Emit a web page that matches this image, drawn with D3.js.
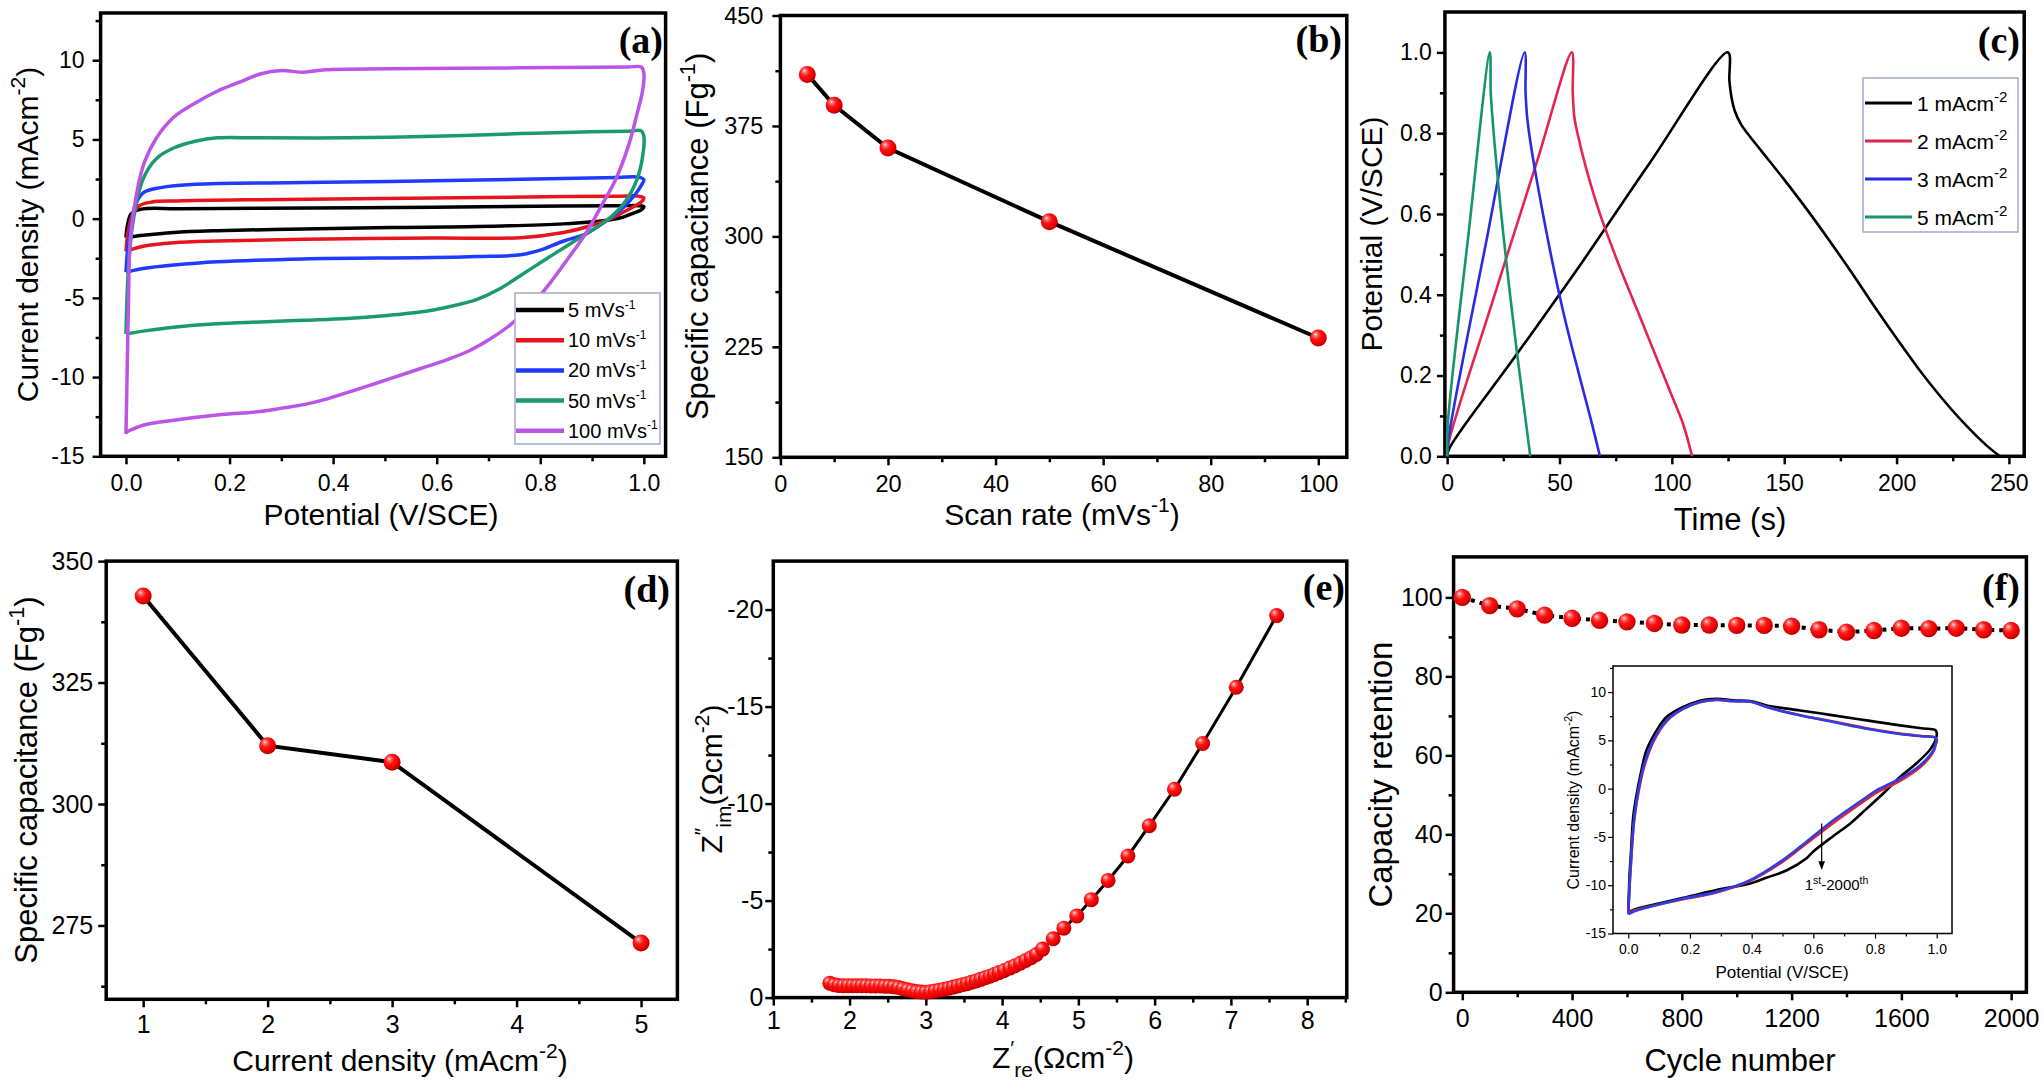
<!DOCTYPE html>
<html>
<head>
<meta charset="utf-8">
<script src="https://cdn.jsdelivr.net/npm/d3@7"></script>
<style>
  body { margin: 0; background: #fff; }
</style>
</head>
<body>
<script>
// ---- data ----

// (a) CV loops at several scan rates, [potential V, current density mA/cm2]
const cvLabels = ['5 mVs', '10 mVs', '20 mVs', '50 mVs', '100 mVs'];
const cv5 = [[0,-1.2],[0.003,-0.4],[0.01,0.3],[0.03,0.6],[0.1,0.63],[0.259,0.65],[0.594,0.72],[0.845,0.8],[0.95,0.81],[0.99,0.82],[1.0,0.75],[0.995,0.55],[0.98,0.35],[0.96,0.1],[0.929,-0.1],[0.845,-0.33],[0.678,-0.5],[0.51,-0.56],[0.343,-0.65],[0.176,-0.76],[0.092,-0.87],[0.033,-1.05],[0.01,-1.15],[0,-1.2]];
const cv10 = [[0,-2.07],[0.004,-0.9],[0.012,0.2],[0.025,0.8],[0.05,1.05],[0.1,1.12],[0.259,1.2],[0.594,1.3],[0.845,1.4],[0.95,1.42],[0.99,1.42],[1.0,1.3],[0.995,1.05],[0.98,0.75],[0.96,0.4],[0.929,-0.1],[0.887,-0.54],[0.845,-0.87],[0.762,-1.2],[0.594,-1.22],[0.343,-1.3],[0.176,-1.41],[0.092,-1.52],[0.033,-1.74],[0.01,-1.95],[0,-2.07]];
const cv20 = [[0,-3.37],[0.003,-2],[0.008,-0.8],[0.017,0.76],[0.033,1.63],[0.067,1.96],[0.134,2.17],[0.343,2.28],[0.594,2.39],[0.845,2.54],[0.95,2.6],[0.99,2.62],[1.0,2.45],[0.995,2.1],[0.985,1.6],[0.962,0.76],[0.929,-0.1],[0.887,-0.98],[0.845,-1.41],[0.803,-1.96],[0.762,-2.28],[0.678,-2.39],[0.594,-2.46],[0.343,-2.54],[0.176,-2.72],[0.092,-2.93],[0.033,-3.15],[0.01,-3.3],[0,-3.37]];
const cv50 = [[0,-7.28],[0.004,-3.6],[0.013,-0.33],[0.033,2.5],[0.059,3.8],[0.092,4.46],[0.134,4.89],[0.176,5.1],[0.259,5.1],[0.427,5.1],[0.594,5.2],[0.762,5.37],[0.9,5.48],[0.97,5.52],[0.995,5.54],[1.0,5.2],[0.998,4.0],[0.987,2.5],[0.962,0.98],[0.929,-0.1],[0.887,-0.98],[0.845,-1.85],[0.803,-2.72],[0.762,-3.59],[0.72,-4.46],[0.678,-5.1],[0.653,-5.33],[0.594,-5.76],[0.51,-6.09],[0.427,-6.3],[0.343,-6.41],[0.259,-6.52],[0.176,-6.63],[0.092,-6.85],[0.033,-7.1],[0,-7.28]];
const cv100 = [[0,-13.6],[0.002,-10.1],[0.005,-5],[0.008,-1.4],[0.02,1.5],[0.035,3.5],[0.059,5.1],[0.092,6.4],[0.134,7.3],[0.176,8.04],[0.218,8.6],[0.259,9.13],[0.301,9.35],[0.343,9.24],[0.385,9.4],[0.51,9.46],[0.762,9.52],[0.9,9.55],[0.97,9.57],[0.995,9.57],[1.0,9.2],[0.998,8.15],[0.987,6.63],[0.971,4.67],[0.946,2.5],[0.921,0.98],[0.887,-0.98],[0.854,-2.5],[0.82,-4.02],[0.787,-5.33],[0.745,-6.63],[0.703,-7.6],[0.661,-8.37],[0.619,-8.91],[0.569,-9.46],[0.51,-10.1],[0.469,-10.54],[0.427,-10.98],[0.385,-11.41],[0.343,-11.74],[0.301,-11.96],[0.259,-12.17],[0.176,-12.39],[0.092,-12.72],[0.033,-13.04],[0,-13.48]];

// (b) specific capacitance vs scan rate
const scanRates = [5, 10, 20, 50, 100];
const capByRate = [410, 389, 360, 310, 231];

// (c) charge/discharge curves, [time s, potential V]
const gcdLabels = ['1 mAcm', '2 mAcm', '3 mAcm', '5 mAcm'];
const gcd1 = [[0,0],[1,0.02],[30,0.245],[60,0.48],[90,0.725],[125,1.0],[125.6,0.93],[126.5,0.89],[128,0.855],[131,0.82],[135,0.79],[140,0.755],[150,0.685],[160,0.612],[170,0.535],[180,0.455],[190,0.372],[200,0.292],[210,0.215],[220,0.145],[230,0.082],[240,0.027],[246,0]];
const gcd2 = [[0,0],[0.5,0.03],[20,0.38],[40,0.73],[55.5,1.0],[55.9,0.9],[56.6,0.84],[58,0.8],[62,0.71],[68,0.6],[76,0.48],[84,0.37],[92,0.26],[100,0.15],[105,0.08],[109,0]];
const gcd3 = [[0,0],[0.5,0.04],[17,0.52],[34.5,1.0],[34.9,0.9],[35.6,0.84],[37,0.78],[40,0.68],[44,0.56],[48,0.45],[52,0.35],[56,0.26],[60,0.175],[64,0.09],[68,0]];
const gcd5 = [[0,0],[0.3,0.08],[9.5,0.55],[19,1.0],[19.4,0.9],[20,0.85],[21,0.78],[23,0.66],[25,0.55],[28,0.4],[31,0.26],[34,0.13],[37,0]];

// (d) specific capacitance vs current density
const currDens = [1, 2, 3, 5];
const capByCurrent = [342.8, 312, 308.6, 271.4];

// (e) Nyquist plot
const zRe = [1.74,1.80,1.86,1.92,1.98,2.04,2.10,2.16,2.22,2.28,2.34,2.40,2.46,2.52,2.58,2.64,2.70,2.76,2.82,2.88,2.94,3.00,3.06,3.12,3.18,3.24,3.30,3.36,3.42,3.48,3.54,3.60,3.66,3.72,3.78,3.84,3.90,3.96,4.03,4.10,4.17,4.24,4.31,4.38,4.45,4.53,4.67,4.81,4.98,5.17,5.39,5.65,5.93,6.26,6.63,7.07,7.60];
const zIm = [-0.74,-0.66,-0.62,-0.61,-0.61,-0.61,-0.61,-0.61,-0.61,-0.6,-0.6,-0.6,-0.59,-0.58,-0.56,-0.52,-0.46,-0.40,-0.35,-0.31,-0.29,-0.28,-0.30,-0.34,-0.38,-0.43,-0.48,-0.54,-0.60,-0.66,-0.72,-0.79,-0.86,-0.94,-1.02,-1.10,-1.19,-1.29,-1.40,-1.52,-1.64,-1.77,-1.91,-2.06,-2.22,-2.50,-3.03,-3.58,-4.21,-5.05,-6.04,-7.30,-8.86,-10.74,-13.10,-16.00,-19.69];

// (f) cycling stability
const cycles = [0,100,200,300,400,500,600,700,800,900,1000,1100,1200,1300,1400,1500,1600,1700,1800,1900,2000];
const retention = [100,97.9,97.1,95.5,94.7,94.2,93.8,93.4,93.0,93.0,92.9,92.9,92.7,91.8,91.2,91.6,92.2,92.1,92.2,91.8,91.6];

// (f) inset CV, 1st and 2000th cycles
const insetFirst = [[0,-12.8],[0.004,-9],[0.009,-6.4],[0.016,-2.9],[0.027,-0.6],[0.038,1.2],[0.059,3.97],[0.092,6.03],[0.124,7.41],[0.178,8.45],[0.232,9.1],[0.286,9.3],[0.34,9.14],[0.4,9.05],[0.449,8.62],[0.557,8.1],[0.665,7.59],[0.773,7.07],[0.881,6.55],[0.95,6.25],[0.995,6.08],[1.0,5.8],[0.998,5.2],[0.99,4.6],[0.975,3.9],[0.93,2.5],[0.881,1.2],[0.83,-0.4],[0.773,-2.07],[0.72,-3.6],[0.665,-4.9],[0.6,-6.5],[0.578,-7.2],[0.514,-8.45],[0.45,-9.2],[0.395,-9.83],[0.286,-10.5],[0.178,-11.3],[0.07,-12.1],[0.02,-12.5],[0,-12.8]];
const insetMid = [[0,-12.9],[0.005,-9.6],[0.011,-6.5],[0.018,-3.6],[0.028,-1.3],[0.05,2.1],[0.082,4.9],[0.125,7.0],[0.178,8.25],[0.232,8.95],[0.286,9.18],[0.34,9.05],[0.4,8.98],[0.449,8.45],[0.557,7.6],[0.665,6.95],[0.773,6.25],[0.881,5.7],[0.95,5.45],[0.995,5.3],[1.0,5.0],[0.997,4.6],[0.989,3.8],[0.946,2.2],[0.881,0.8],[0.805,-0.4],[0.773,-1.1],[0.665,-3.55],[0.557,-6.2],[0.492,-7.75],[0.395,-9.55],[0.286,-10.75],[0.178,-11.45],[0.07,-12.2],[0.02,-12.6],[0,-12.9]];
const insetLast = [[0,-13.0],[0.005,-9.5],[0.011,-6.4],[0.018,-3.5],[0.027,-1.2],[0.049,2.24],[0.081,5.0],[0.124,7.07],[0.178,8.28],[0.232,8.97],[0.286,9.2],[0.34,9.07],[0.4,9.0],[0.449,8.45],[0.557,7.59],[0.665,6.9],[0.773,6.2],[0.881,5.65],[0.95,5.42],[0.995,5.28],[1.0,5.0],[0.997,4.7],[0.989,3.97],[0.946,2.41],[0.881,1.03],[0.805,-0.17],[0.773,-0.86],[0.665,-3.28],[0.557,-6.03],[0.492,-7.59],[0.395,-9.48],[0.286,-10.69],[0.178,-11.38],[0.07,-12.24],[0.02,-12.7],[0,-13.0]];

// ---- drawing ----
const FONT = '"Liberation Sans", Arial, Helvetica, sans-serif';
const width = 2043, height = 1092;

const svg = d3.select('body').append('svg')
  .attr('width', width).attr('height', height)
  .style('font-family', FONT);

// shaded red ball used for all the markers
const grad = svg.append('defs').append('radialGradient')
  .attr('id', 'ball').attr('cx', '40%').attr('cy', '38%').attr('r', '62%')
  .attr('fx', '33%').attr('fy', '28%');
[[0, '#ffe4e4'], [0.18, '#ff7070'], [0.45, '#ff1414'], [0.85, '#e00000'], [1, '#b40000']]
  .forEach(s => grad.append('stop').attr('offset', s[0]).attr('stop-color', s[1]));

svg.select('defs').append('marker')
  .attr('id', 'arrow').attr('viewBox', '0 0 10 10').attr('refX', 9).attr('refY', 5)
  .attr('markerWidth', 7).attr('markerHeight', 7).attr('orient', 'auto')
  .append('path').attr('d', 'M0,1 L10,5 L0,9 z').attr('fill', '#000');

// text with super (1) / subscript (-1) pieces
function richText(sel, x, y, parts, size, opts = {}) {
  const t = sel.append('text')
    .attr('font-size', size)
    .attr('text-anchor', opts.anchor || 'middle')
    .attr('fill', '#000')
    .attr('transform', `translate(${x},${y})` + (opts.rotate ? ` rotate(${opts.rotate})` : ''));
  let cur = 0;
  parts.forEach(([s, k]) => {
    const shift = k === 1 ? -0.42 * size : k === -1 ? 0.3 * size : 0;
    t.append('tspan')
      .attr('dy', shift - cur)
      .attr('font-size', k ? size * (opts.small || 0.7) : size)
      .text(s);
    cur = shift;
  });
  return t;
}

function buildPanel(p) {
  const g = svg.append('g');
  const x = d3.scaleLinear().domain(p.xd).range([p.l, p.r]);
  const y = d3.scaleLinear().domain(p.yd).range([p.b, p.t]);
  const major = p.major || 8, minor = p.minor || 5;

  g.append('g').attr('transform', `translate(0,${p.b})`)
    .call(d3.axisBottom(x).tickValues(p.xm).tickFormat('').tickSize(minor).tickSizeOuter(0));
  g.append('g').attr('transform', `translate(${p.l},0)`)
    .call(d3.axisLeft(y).tickValues(p.ym).tickFormat('').tickSize(minor).tickSizeOuter(0));
  g.append('g').attr('transform', `translate(0,${p.b})`)
    .call(d3.axisBottom(x).tickValues(p.xt).tickFormat(p.xf).tickSize(major).tickPadding(p.xpad).tickSizeOuter(0));
  g.append('g').attr('transform', `translate(${p.l},0)`)
    .call(d3.axisLeft(y).tickValues(p.yt).tickFormat(p.yf).tickSize(major).tickPadding(p.ypad).tickSizeOuter(0));

  g.selectAll('.domain').remove();
  g.selectAll('.tick line').attr('stroke', '#000').attr('stroke-width', p.tw || 2.5);
  g.selectAll('.tick text')
    .attr('font-size', p.fs).attr('font-family', FONT).attr('fill', '#000');

  g.append('rect')
    .attr('x', p.l).attr('y', p.t)
    .attr('width', p.r - p.l).attr('height', p.b - p.t)
    .attr('fill', 'none').attr('stroke', '#000').attr('stroke-width', p.fw || 3.5);
  return { g, x, y };
}

function panelLetter(x, y, s) {
  svg.append('text')
    .attr('x', x).attr('y', y)
    .attr('text-anchor', 'end')
    .attr('font-family', '"Liberation Serif", "Times New Roman", serif')
    .attr('font-weight', 'bold')
    .attr('font-size', 38)
    .text(s);
}

const str = d => String(d);
const fix1 = d => d.toFixed(1);
const smooth = d3.curveCatmullRom.alpha(0.5);

function drawBalls(p, xs, ys, r) {
  p.g.append('g').selectAll('circle')
    .data(xs)
    .join('circle')
    .attr('cx', d => p.x(d))
    .attr('cy', (d, i) => p.y(ys[i]))
    .attr('r', r)
    .attr('fill', 'url(#ball)');
}

// ---------- (a) ----------
const pa = buildPanel({
  l: 100.6, r: 665.6, t: 13, b: 456.3,
  xd: [-0.049, 1.042], yd: [-15, 12.98],
  xt: [0, 0.2, 0.4, 0.6, 0.8, 1.0], xm: [0.1, 0.3, 0.5, 0.7, 0.9],
  yt: [-15, -10, -5, 0, 5, 10], ym: [-12.5, -7.5, -2.5, 2.5, 7.5, 12.5],
  xf: fix1, yf: str, fs: 23, xpad: 10, ypad: 8
});
const cvSeries = [cv5, cv10, cv20, cv50, cv100];
const cvColors = ['#000000', '#e8141c', '#1f3bff', '#1b9a72', '#bb55e6'];
const cvLine = d3.line().x(d => pa.x(d[0])).y(d => pa.y(d[1])).curve(smooth);
cvSeries.forEach((s, i) => {
  pa.g.append('path').datum(s)
    .attr('d', cvLine)
    .attr('fill', 'none')
    .attr('stroke', cvColors[i])
    .attr('stroke-width', 3.5)
    .attr('stroke-linejoin', 'round');
});
// legend
pa.g.append('rect').attr('x', 515).attr('y', 293).attr('width', 145).attr('height', 151)
  .attr('fill', '#fff').attr('stroke', '#a4abc4').attr('stroke-width', 1.5);
cvLabels.forEach((lab, i) => {
  const yy = 310 + i * 30.2;
  pa.g.append('line').attr('x1', 516).attr('x2', 564).attr('y1', yy).attr('y2', yy)
    .attr('stroke', cvColors[i]).attr('stroke-width', 4.5);
  richText(pa.g, 568, yy + 7, [[lab, 0], ['-1', 1]], 20, { anchor: 'start', small: 0.6 });
});
richText(svg, 38, 234.5, [['Current density (mAcm', 0], ['-2', 1], [')', 0]], 30, { rotate: -90 });
richText(svg, 381, 525, [['Potential (V/SCE)', 0]], 30);
panelLetter(663, 53, '(a)');

// ---------- (b) ----------
const pb = buildPanel({
  l: 780.4, r: 1346.8, t: 15.5, b: 457.3,
  xd: [0, 105.3], yd: [150, 450],
  xt: [0, 20, 40, 60, 80, 100], xm: [10, 30, 50, 70, 90],
  yt: [150, 225, 300, 375, 450], ym: [187.5, 262.5, 337.5, 412.5],
  xf: str, yf: str, fs: 23.5, xpad: 10, ypad: 9
});
pb.g.append('path').datum(scanRates)
  .attr('d', d3.line().x(d => pb.x(d)).y((d, i) => pb.y(capByRate[i])))
  .attr('fill', 'none').attr('stroke', '#000').attr('stroke-width', 4);
drawBalls(pb, scanRates, capByRate, 8.5);
richText(svg, 708, 236.4, [['Specific capacitance (Fg', 0], ['-1', 1], [')', 0]], 31, { rotate: -90 });
richText(svg, 1062, 525, [['Scan rate (mVs', 0], ['-1', 1], [')', 0]], 30);
panelLetter(1342, 52, '(b)');

// ---------- (c) ----------
const pc = buildPanel({
  l: 1444.9, r: 2024.2, t: 12, b: 456.3,
  xd: [-1, 256.8], yd: [0, 1.1],
  xt: [0, 50, 100, 150, 200, 250], xm: [25, 75, 125, 175, 225],
  yt: [0, 0.2, 0.4, 0.6, 0.8, 1.0], ym: [0.1, 0.3, 0.5, 0.7, 0.9],
  xf: str, yf: fix1, fs: 23, xpad: 10, ypad: 5
});
const gcdSeries = [gcd1, gcd2, gcd3, gcd5];
const gcdColors = ['#000000', '#e2264d', '#2b2be6', '#17946b'];
const gcdLine = d3.line().x(d => pc.x(d[0])).y(d => pc.y(d[1])).curve(smooth);
gcdSeries.forEach((s, i) => {
  pc.g.append('path').datum(s)
    .attr('d', gcdLine)
    .attr('fill', 'none')
    .attr('stroke', gcdColors[i])
    .attr('stroke-width', 2.6);
});
pc.g.append('rect').attr('x', 1863).attr('y', 78).attr('width', 155).attr('height', 154)
  .attr('fill', '#fff').attr('stroke', '#a4abc4').attr('stroke-width', 1.5);
gcdLabels.forEach((lab, i) => {
  const yy = 103 + i * 38;
  pc.g.append('line').attr('x1', 1865).attr('x2', 1912).attr('y1', yy).attr('y2', yy)
    .attr('stroke', gcdColors[i]).attr('stroke-width', 3);
  richText(pc.g, 1917, yy + 8, [[lab, 0], ['-2', 1]], 21, { anchor: 'start', small: 0.72 });
});
richText(svg, 1382, 234, [['Potential (V/SCE)', 0]], 30, { rotate: -90 });
richText(svg, 1730, 530, [['Time (s)', 0]], 31);
panelLetter(2020, 53, '(c)');

// ---------- (d) ----------
const pd = buildPanel({
  l: 106.2, r: 677.4, t: 561.1, b: 999.3,
  xd: [0.703, 5.292], yd: [259.8, 350],
  xt: [1, 2, 3, 4, 5], xm: [1.5, 2.5, 3.5, 4.5],
  yt: [275, 300, 325, 350], ym: [262.5, 287.5, 312.5, 337.5],
  xf: str, yf: str, fs: 25, xpad: 8, ypad: 5
});
pd.g.append('path').datum(currDens)
  .attr('d', d3.line().x(d => pd.x(d)).y((d, i) => pd.y(capByCurrent[i])))
  .attr('fill', 'none').attr('stroke', '#000').attr('stroke-width', 4);
drawBalls(pd, currDens, capByCurrent, 8.5);
richText(svg, 37, 780, [['Specific capacitance (Fg', 0], ['-1', 1], [')', 0]], 31, { rotate: -90 });
richText(svg, 400, 1071, [['Current density (mAcm', 0], ['-2', 1], [')', 0]], 30);
panelLetter(670, 602, '(d)');

// ---------- (e) ----------
const pe = buildPanel({
  l: 773.3, r: 1346.8, t: 561.1, b: 997.6,
  xd: [1, 8.52], yd: [0, -22.5],
  xt: [1, 2, 3, 4, 5, 6, 7, 8], xm: [1.5, 2.5, 3.5, 4.5, 5.5, 6.5, 7.5, 8.5],
  yt: [0, -5, -10, -15, -20], ym: [-2.5, -7.5, -12.5, -17.5],
  xf: str, yf: str, fs: 25, xpad: 6, ypad: 2
});
pe.g.append('path').datum(zRe)
  .attr('d', d3.line().x(d => pe.x(d)).y((d, i) => pe.y(zIm[i])))
  .attr('fill', 'none').attr('stroke', '#000').attr('stroke-width', 3);
drawBalls(pe, zRe, zIm, 7.5);
richText(svg, 722, 779, [['Z', 0], ['\u2033', 1], ['im', -1], ['(\u03A9cm', 0], ['-2', 1], [')', 0]], 30, { rotate: -90 });
richText(svg, 1063, 1068, [['Z', 0], ['\u2032', 1], ['re', -1], ['(\u03A9cm', 0], ['-2', 1], [')', 0]], 30);
panelLetter(1345, 600, '(e)');

// ---------- (f) ----------
const pf = buildPanel({
  l: 1453.6, r: 2026.4, t: 556.9, b: 992.3,
  xd: [-31.7, 2055.6], yd: [0, 110.25],
  xt: [0, 400, 800, 1200, 1600, 2000], xm: [200, 600, 1000, 1400, 1800],
  yt: [0, 20, 40, 60, 80, 100], ym: [10, 30, 50, 70, 90],
  xf: str, yf: str, fs: 25, xpad: 9, ypad: 3
});
pf.g.append('path').datum(cycles)
  .attr('d', d3.line().x(d => pf.x(d)).y((d, i) => pf.y(retention[i])))
  .attr('fill', 'none').attr('stroke', '#000').attr('stroke-width', 4)
  .attr('stroke-dasharray', '4,5');
drawBalls(pf, cycles, retention, 8.7);
richText(svg, 1392, 774.6, [['Capacity retention', 0]], 33, { rotate: -90 });
richText(svg, 1740, 1071, [['Cycle number', 0]], 31);
panelLetter(2020, 600, '(f)');

// inset of (f)
const pi = buildPanel({
  l: 1613, r: 1952, t: 666, b: 933.5,
  xd: [-0.0496, 1.0496], yd: [-15, 12.7],
  xt: [0, 0.2, 0.4, 0.6, 0.8, 1.0], xm: [0.1, 0.3, 0.5, 0.7, 0.9],
  yt: [-15, -10, -5, 0, 5, 10], ym: [-12.5, -7.5, -2.5, 2.5, 7.5, 12.5],
  xf: fix1, yf: str, fs: 14, xpad: 6, ypad: 2,
  major: 5, minor: 3, tw: 1.2, fw: 1.5
});
const insetSeries = [insetFirst, insetMid, insetLast];
const insetColors = ['#000000', '#e8202a', '#2e3ee6'];
const insetLine = d3.line().x(d => pi.x(d[0])).y(d => pi.y(d[1])).curve(smooth);
insetSeries.forEach((s, i) => {
  pi.g.append('path').datum(s)
    .attr('d', insetLine)
    .attr('fill', 'none')
    .attr('stroke', insetColors[i])
    .attr('stroke-width', 2.6);
});
pi.g.append('line')
  .attr('x1', pi.x(0.627)).attr('x2', pi.x(0.627))
  .attr('y1', pi.y(-3.6)).attr('y2', pi.y(-8.3))
  .attr('stroke', '#000').attr('stroke-width', 1.2)
  .attr('marker-end', 'url(#arrow)');
richText(pi.g, pi.x(0.572), pi.y(-10.5), [['1', 0], ['st', 1], ['-2000', 0], ['th', 1]], 15, { anchor: 'start' });
richText(svg, 1579, 800, [['Current density (mAcm', 0], ['-2', 1], [')', 0]], 16, { rotate: -90 });
richText(svg, 1782, 978, [['Potential (V/SCE)', 0]], 17);
</script>
</body>
</html>
